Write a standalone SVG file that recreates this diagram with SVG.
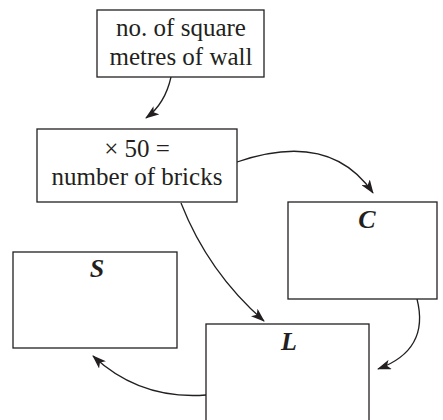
<svg xmlns="http://www.w3.org/2000/svg" width="443" height="420" viewBox="0 0 443 420">
<defs>
<marker id="ah" viewBox="0 0 14 10" refX="13" refY="5" markerWidth="14" markerHeight="10" markerUnits="userSpaceOnUse" orient="auto">
<path d="M0,0 L14,5 L0,10 L3.5,5 Z" fill="#231f20"/>
</marker>
<style>
.box{fill:#fff;stroke:#231f20;stroke-width:1.3}
.t{font-family:"Liberation Serif",serif;font-size:25px;fill:#231f20;text-anchor:middle}
.lab{font-family:"Liberation Serif",serif;font-size:26px;font-weight:bold;font-style:italic;fill:#231f20;text-anchor:middle}
.c{fill:none;stroke:#231f20;stroke-width:1.3;marker-end:url(#ah)}
</style>
</defs>
<rect width="443" height="420" fill="#fff"/>
<g id="connectors">
<path class="c" d="M171,77 Q165,104 146,118"/>
<path class="c" d="M237,162 Q330,130 373,193"/>
<path class="c" d="M181,203 Q208,272 264,321"/>
<path class="c" d="M417,299 Q430,350 378,369"/>
<path class="c" d="M206,395 Q140,400 93,356"/>
</g>
<g id="n1">
<rect class="box" x="97" y="10" width="167" height="67"/>
<text class="t" x="181" y="36">no. of square</text>
<text class="t" x="181" y="65">metres of wall</text>
</g>
<g id="n2">
<rect class="box" x="37" y="129" width="200" height="73"/>
<text class="t" x="137" y="157">× 50 =</text>
<text class="t" x="137" y="185">number of bricks</text>
</g>
<g id="nC">
<rect class="box" x="288" y="202" width="149" height="97"/>
<text class="lab" x="367" y="228">C</text>
</g>
<g id="nS">
<rect class="box" x="13" y="252" width="164" height="96"/>
<text class="lab" x="97" y="277">S</text>
</g>
<g id="nL">
<rect class="box" x="206" y="324" width="163" height="110"/>
<text class="lab" x="289" y="350">L</text>
</g>
</svg>
